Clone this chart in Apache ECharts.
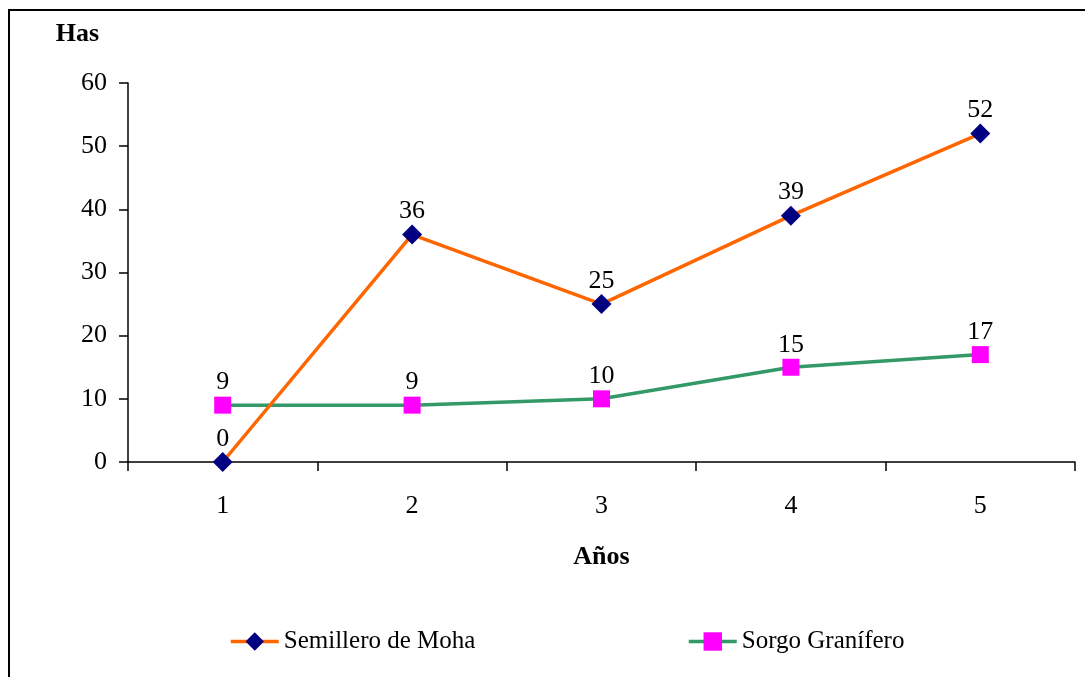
<!DOCTYPE html>
<html>
<head>
<meta charset="utf-8">
<script src="https://cdn.jsdelivr.net/npm/echarts@6/dist/echarts.min.js"></script>
<style>
  html, body { margin: 0; padding: 0; background: #fff; }
  #chart { width: 1085px; height: 677px; }
</style>
</head>
<body>
<div id="chart"></div>
<script>
// Hectares per year for the two crops
const years = ['1', '2', '3', '4', '5'];
const semilleroMoha = [0, 36, 25, 39, 52];
const sorgoGranifero = [9, 9, 10, 15, 17];
const yTicks = { min: 0, max: 60, interval: 10 };

const serifFont = '"Liberation Serif", "Times New Roman", serif';
const baseSize = 26;

const chart = echarts.init(document.getElementById('chart'), null, { renderer: 'canvas' });

const legendCommon = {
  top: 629,
  padding: 0,
  itemWidth: 48, itemHeight: 23, itemGap: 0,
  lineStyle: { width: 3.5 },
  textStyle: { fontFamily: serifFont, fontSize: 25, color: '#000' }
};

chart.setOption({
  backgroundColor: '#ffffff',
  animation: false,
  textStyle: { fontFamily: serifFont, color: '#000' },
  graphic: [
    {
      type: 'rect',
      shape: { x: 9, y: 10, width: 1100, height: 700 },
      style: { fill: 'none', stroke: '#000', lineWidth: 2 },
      silent: true
    }
  ],
  grid: { left: 128, right: 10, top: 83, bottom: 215, containLabel: false },
  legend: [
    Object.assign({ data: ['Semillero de Moha'], left: 229 }, legendCommon),
    Object.assign({ data: ['Sorgo Granífero'], left: 687 }, legendCommon)
  ],
  xAxis: {
    type: 'category',
    data: years,
    boundaryGap: true,
    name: 'Años',
    nameLocation: 'middle',
    nameGap: 82,
    nameTextStyle: { fontFamily: serifFont, fontSize: baseSize, fontWeight: 'bold', color: '#000' },
    axisLine: { lineStyle: { color: '#000', width: 1.5 } },
    axisTick: { show: true, inside: false, length: 9, lineStyle: { color: '#000', width: 1.5 } },
    axisLabel: { fontFamily: serifFont, fontSize: baseSize, color: '#000', margin: 31 },
    splitLine: { show: false }
  },
  yAxis: {
    type: 'value',
    min: yTicks.min, max: yTicks.max, interval: yTicks.interval,
    name: 'Has',
    nameLocation: 'end',
    nameGap: 36,
    nameTextStyle: {
      fontFamily: serifFont, fontSize: baseSize, fontWeight: 'bold', color: '#000',
      align: 'center', padding: [0, 101, 0, 0]
    },
    axisLine: { show: true, lineStyle: { color: '#000', width: 1.5 } },
    axisTick: { show: true, inside: false, length: 9, lineStyle: { color: '#000', width: 1.5 } },
    axisLabel: { fontFamily: serifFont, fontSize: baseSize, color: '#000', margin: 21 },
    splitLine: { show: false }
  },
  series: [
    {
      name: 'Semillero de Moha',
      type: 'line',
      data: semilleroMoha,
      symbol: 'diamond',
      symbolSize: 20,
      lineStyle: { color: '#FF6600', width: 3.5 },
      itemStyle: { color: '#000080', borderWidth: 0 },
      label: {
        show: true, position: 'top', distance: 0,
        fontFamily: serifFont, fontSize: baseSize, color: '#000'
      },
      z: 3
    },
    {
      name: 'Sorgo Granífero',
      type: 'line',
      data: sorgoGranifero,
      symbol: 'rect',
      symbolSize: 17,
      lineStyle: { color: '#339966', width: 3.5 },
      itemStyle: { color: '#FF00FF', borderWidth: 0 },
      label: {
        show: true, position: 'top', distance: 1,
        fontFamily: serifFont, fontSize: baseSize, color: '#000'
      },
      z: 2
    }
  ]
});
</script>
</body>
</html>
